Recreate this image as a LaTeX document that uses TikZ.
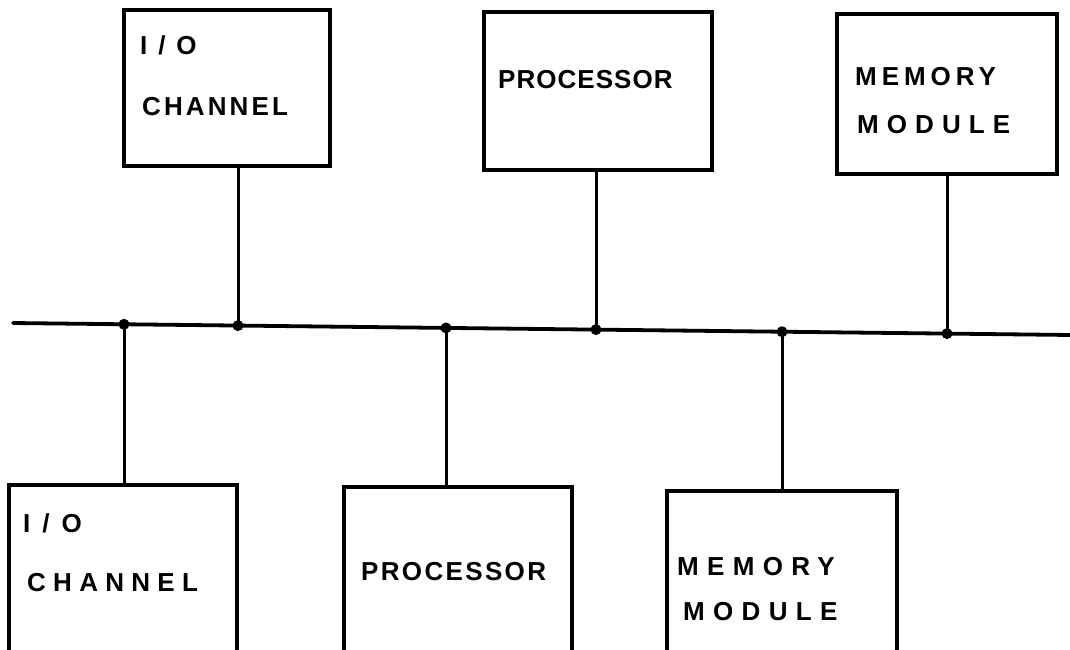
\documentclass[tikz,border=0pt]{standalone}
\usepackage{fontspec}
\newfontfamily\handfont{Liberation Sans}
\newcommand\trk[1]{\addfontfeature{LetterSpace=#1}}
\tikzset{
  box/.style={draw, line width=3.6pt, rectangle, inner sep=0pt},
  lab/.style={anchor=west, inner sep=0pt, font=\handfont\bfseries\fontsize{26}{26}\selectfont},
  wire/.style={line width=3pt},
  bus/.style={line width=3.8pt, line cap=round},
  dot/.style={circle, fill, inner sep=0pt, minimum size=11pt}
}
\begin{document}
\begin{tikzpicture}[x=1pt,y=-1pt]
\useasboundingbox (0,0) rectangle (1070,649);
\clip (0,0) rectangle (1070,649);
\fill[white] (0,0) rectangle (1070,649);
% boxes
\node[box, minimum width=206pt, minimum height=156pt] (b1) at (227,88) {};
\node[box, minimum width=228pt, minimum height=158pt] (b2) at (598,91) {};
\node[box, minimum width=220pt, minimum height=160pt] (b3) at (947,94) {};
\node[box, minimum width=228pt, minimum height=172pt] (b4) at (123,571) {};
\node[box, minimum width=228pt, minimum height=170pt] (b5) at (458,572) {};
\node[box, minimum width=230pt, minimum height=166pt] (b6) at (782,574) {};
% labels
\node[lab] (t1a) at (140,45) {\trk{42}I/O};
\node[lab] (t1b) at (142,107) {\trk{12}CHANNEL};
\node[lab] (t2) at (498,80) {\trk{4}PROCESSOR};
\node[lab] (t3a) at (855,77) {\trk{19}MEMORY};
\node[lab] (t3b) at (857,125) {\trk{31}MODULE};
\node[lab] (t4a) at (23,523) {\trk{46}I/O};
\node[lab] (t4b) at (27,583) {\trk{28}CHANNEL};
\node[lab] (t5) at (361,572) {\trk{9}PROCESSOR};
\node[lab] (t6a) at (677,567) {\trk{32}MEMORY};
\node[lab] (t6b) at (683,612) {\trk{32}MODULE};
% bus
\coordinate (busL) at (13,323);
\coordinate (busR) at (1072,335);
\coordinate (d1) at (124,324.3);
\coordinate (d2) at (238,325.6);
\coordinate (d3) at (446,327.9);
\coordinate (d4) at (596,329.6);
\coordinate (d5) at (782,331.7);
\coordinate (d6) at (947,333.6);
\draw[bus] (busL) -- (busR);
% connectors
\draw[wire] (d2 |- b1.south) -- (d2);
\draw[wire] (d4 |- b2.south) -- (d4);
\draw[wire] (d6 |- b3.south) -- (d6);
\draw[wire] (d1) -- (d1 |- b4.north);
\draw[wire] (d3) -- (d3 |- b5.north);
\draw[wire] (d5) -- (d5 |- b6.north);
% junction dots
\foreach \d in {d1,d2,d3,d4,d5,d6} \node[dot] at (\d) {};
\end{tikzpicture}
\end{document}
